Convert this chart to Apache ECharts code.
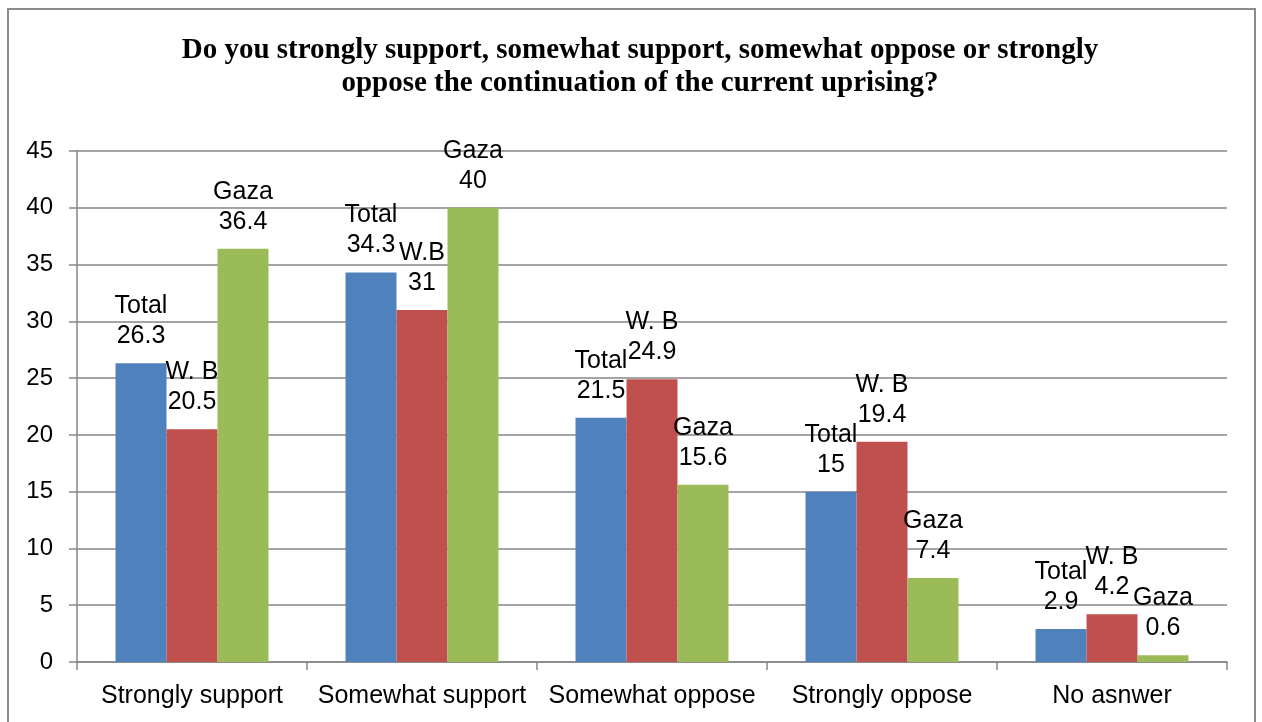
<!DOCTYPE html>
<html>
<head>
<meta charset="utf-8">
<script src="https://cdn.jsdelivr.net/npm/echarts@6/dist/echarts.min.js"></script>
<style>html,body{margin:0;padding:0;background:#fff;}#c{width:1262px;height:722px;}</style>
</head>
<body>
<div id="c"></div>
<script>
const titleText = "Do you strongly support, somewhat support, somewhat oppose or strongly\noppose the continuation of the current uprising?";
const categories = ["Strongly support", "Somewhat support", "Somewhat oppose", "Strongly oppose", "No asnwer"];
const totalValues = [26.3, 34.3, 21.5, 15, 2.9];
const wbValues = [20.5, 31, 24.9, 19.4, 4.2];
const gazaValues = [36.4, 40, 15.6, 7.4, 0.6];
const totalLabels = ["Total", "Total", "Total", "Total", "Total"];
const wbLabels = ["W. B", "W.B", "W. B", "W. B", "W. B"];
const gazaLabels = ["Gaza", "Gaza", "Gaza", "Gaza", "Gaza"];
const yTicks = { min: 0, max: 45, interval: 5 };

const FONT = "Liberation Sans";
function mkSeries(name, values, names, color) {
  return {
    name: name,
    type: 'bar',
    data: values,
    barGap: '0%',
    barCategoryGap: '33.5%',
    itemStyle: { color: color },
    label: {
      show: true,
      position: 'top',
      distance: 12,
      fontFamily: FONT,
      fontSize: 25,
      lineHeight: 30,
      color: '#000',
      formatter: function (p) { return names[p.dataIndex] + '\n' + p.value; }
    }
  };
}

const chart = echarts.init(document.getElementById('c'), null, { renderer: 'canvas' });
chart.setOption({
  animation: false,
  backgroundColor: '#fff',
  title: {
    text: titleText,
    left: 635,
    top: 29,
    textAlign: 'center',
    textStyle: {
      fontFamily: 'Liberation Serif',
      fontWeight: 'bold',
      fontSize: 29,
      lineHeight: 33,
      color: '#000'
    }
  },
  graphic: [{
    type: 'rect',
    shape: { x: 8, y: 9, width: 1247, height: 730 },
    style: { fill: 'none', stroke: '#8c8c8c', lineWidth: 2 },
    silent: true
  }],
  grid: { left: 77, right: 35, top: 151, bottom: 60, containLabel: false },
  xAxis: {
    type: 'category',
    data: categories,
    axisLine: { show: true, lineStyle: { color: '#868686', width: 1.5 } },
    axisTick: { show: true, length: 8, alignWithLabel: false, interval: 0, lineStyle: { color: '#868686', width: 1.5 } },
    axisLabel: { fontFamily: FONT, fontSize: 25, color: '#000', margin: 22, interval: 0 },
    splitLine: { show: false }
  },
  yAxis: {
    type: 'value',
    min: yTicks.min,
    max: yTicks.max,
    interval: yTicks.interval,
    axisLine: { show: true, lineStyle: { color: '#868686', width: 1.5 } },
    axisTick: { show: true, length: 8, lineStyle: { color: '#868686', width: 1.5 } },
    axisLabel: { fontFamily: FONT, fontSize: 24, color: '#000', margin: 24 },
    splitLine: { show: true, lineStyle: { color: '#868686', width: 1.5 } }
  },
  series: [
    mkSeries('Total', totalValues, totalLabels, '#4F81BD'),
    mkSeries('W. B', wbValues, wbLabels, '#C0504D'),
    mkSeries('Gaza', gazaValues, gazaLabels, '#9BBB59')
  ]
});
</script>
</body>
</html>
